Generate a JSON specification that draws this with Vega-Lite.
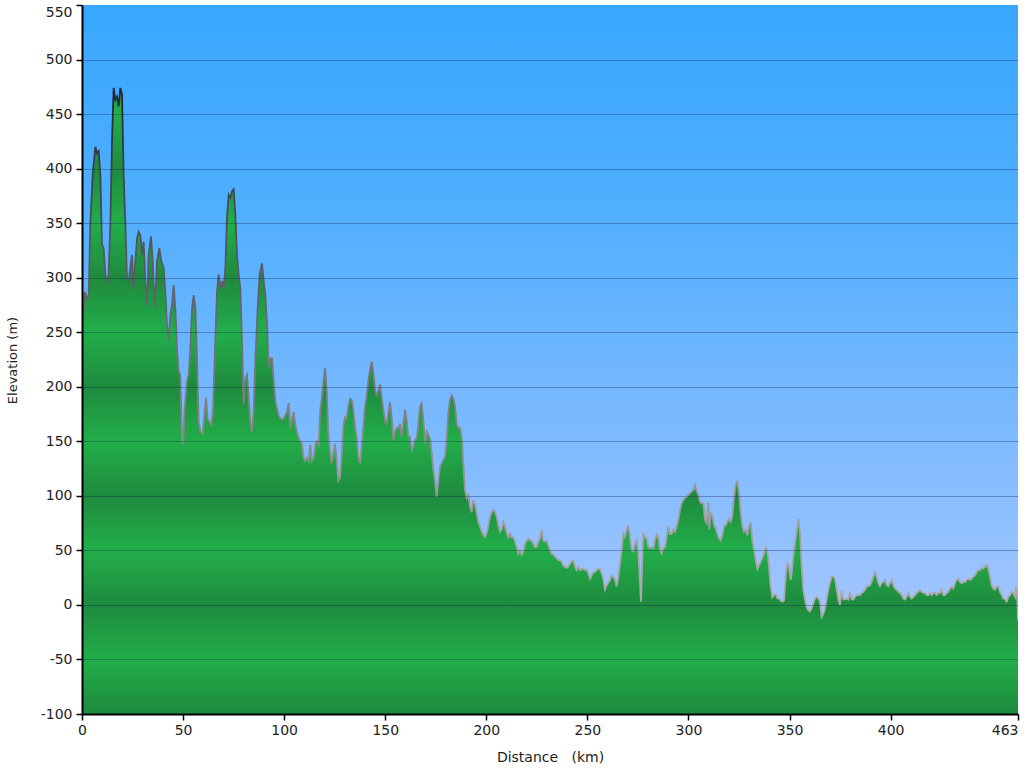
{
  "$schema": "https://vega.github.io/schema/vega-lite/v6.json",
  "width": 936,
  "height": 709,
  "autosize": {"type": "none"},
  "padding": {"left": 82, "top": 5, "right": 6, "bottom": 54},
  "background": "#ffffff",
  "config": {
    "font": "DejaVu Sans",
    "view": {
      "stroke": null,
      "fill": {
        "gradient": "linear", "x1": 0, "y1": 0, "x2": 0, "y2": 1,
        "stops": [
          {"offset": 0, "color": "#22AE4A"},
          {"offset": 0.0769, "color": "#1E8A3D"},
          {"offset": 0.1538, "color": "#22AE4A"},
          {"offset": 0.2308, "color": "#1E8A3D"},
          {"offset": 0.3077, "color": "#22AE4A"},
          {"offset": 0.3846, "color": "#1E8A3D"},
          {"offset": 0.4615, "color": "#22AE4A"},
          {"offset": 0.5385, "color": "#1E8A3D"},
          {"offset": 0.6154, "color": "#22AE4A"},
          {"offset": 0.6923, "color": "#1E8A3D"},
          {"offset": 0.7692, "color": "#22AE4A"},
          {"offset": 0.8462, "color": "#1E8A3D"},
          {"offset": 0.9231, "color": "#22AE4A"},
          {"offset": 1, "color": "#1E8A3D"}
        ]
      }
    }
  },
  "data": {
    "values": [
      {"d":0,"e":240},{"d":0.5,"e":265},{"d":1.32,"e":287},{"d":2.47,"e":281},{"d":3.3,"e":284},{"d":4.12,"e":349},{"d":5.28,"e":394},{"d":6.6,"e":420},{"d":7.42,"e":414},{"d":8.24,"e":416},{"d":9.07,"e":394},{"d":9.89,"e":330},{"d":10.72,"e":327},{"d":11.54,"e":303},{"d":12.37,"e":295},{"d":13.19,"e":304},{"d":14.02,"e":349},{"d":14.84,"e":425},{"d":15.66,"e":474},{"d":16.49,"e":463},{"d":17.31,"e":466},{"d":18.14,"e":457},{"d":18.96,"e":474},{"d":19.79,"e":468},{"d":20.61,"e":394},{"d":21.44,"e":349},{"d":22.26,"e":300},{"d":23.08,"e":297},{"d":23.91,"e":309},{"d":24.73,"e":321},{"d":25.56,"e":290},{"d":26.38,"e":315},{"d":27.21,"e":336},{"d":28.03,"e":342},{"d":28.86,"e":339},{"d":29.68,"e":321},{"d":30.5,"e":333},{"d":31.33,"e":297},{"d":32.15,"e":275},{"d":32.98,"e":321},{"d":34.13,"e":338},{"d":34.96,"e":315},{"d":35.95,"e":272},{"d":37.1,"e":315},{"d":38.25,"e":327},{"d":39.24,"e":315},{"d":40.4,"e":309},{"d":41.22,"e":287},{"d":42.05,"e":257},{"d":42.87,"e":242},{"d":43.7,"e":266},{"d":44.52,"e":275},{"d":45.34,"e":293},{"d":46.17,"e":272},{"d":46.99,"e":235},{"d":47.82,"e":214},{"d":48.64,"e":211},{"d":49.47,"e":150},{"d":49.96,"e":147},{"d":50.79,"e":180},{"d":51.94,"e":205},{"d":52.76,"e":211},{"d":53.59,"e":235},{"d":54.41,"e":272},{"d":55.24,"e":284},{"d":56.06,"e":272},{"d":56.89,"e":226},{"d":57.71,"e":168},{"d":58.54,"e":159},{"d":59.69,"e":157},{"d":60.51,"e":174},{"d":61.34,"e":190},{"d":62.16,"e":171},{"d":62.99,"e":168},{"d":63.98,"e":165},{"d":64.8,"e":180},{"d":65.63,"e":226},{"d":66.78,"e":287},{"d":67.6,"e":303},{"d":68.43,"e":290},{"d":69.25,"e":297},{"d":70.08,"e":290},{"d":70.9,"e":309},{"d":71.73,"e":355},{"d":72.55,"e":376},{"d":73.38,"e":373},{"d":74.2,"e":379},{"d":75.02,"e":381},{"d":75.85,"e":358},{"d":76.67,"e":321},{"d":77.5,"e":303},{"d":78.32,"e":290},{"d":79.15,"e":242},{"d":79.97,"e":184},{"d":80.8,"e":208},{"d":81.62,"e":211},{"d":82.45,"e":190},{"d":83.27,"e":168},{"d":84.09,"e":159},{"d":84.92,"e":180},{"d":85.74,"e":226},{"d":86.9,"e":272},{"d":87.89,"e":303},{"d":89.04,"e":313},{"d":89.87,"e":297},{"d":90.69,"e":284},{"d":91.51,"e":257},{"d":92.34,"e":217},{"d":93.16,"e":226},{"d":93.99,"e":226},{"d":94.81,"e":205},{"d":95.64,"e":187},{"d":96.46,"e":180},{"d":97.29,"e":174},{"d":98.11,"e":171},{"d":98.93,"e":170},{"d":99.76,"e":171},{"d":100.58,"e":174},{"d":101.41,"e":177},{"d":102.23,"e":185},{"d":103.06,"e":162},{"d":103.88,"e":171},{"d":104.71,"e":177},{"d":105.53,"e":165},{"d":106.35,"e":159},{"d":107.18,"e":153},{"d":108.0,"e":150},{"d":108.83,"e":147},{"d":109.65,"e":135},{"d":110.48,"e":132},{"d":111.3,"e":135},{"d":112.13,"e":132},{"d":112.95,"e":147},{"d":113.77,"e":132},{"d":114.6,"e":135},{"d":115.42,"e":147},{"d":116.25,"e":150},{"d":117.07,"e":147},{"d":117.9,"e":180},
      {"d":118.55,"e":188},{"d":119.38,"e":203},{"d":120.2,"e":217},{"d":121.03,"e":197},{"d":121.85,"e":157},{"d":122.68,"e":142},{"d":123.5,"e":130},{"d":124.33,"e":139},{"d":125.15,"e":148},{"d":125.97,"e":133},{"d":126.8,"e":114},{"d":127.62,"e":117},{"d":128.45,"e":136},{"d":129.27,"e":163},{"d":130.1,"e":172},{"d":130.92,"e":171},{"d":131.75,"e":182},{"d":132.57,"e":189},{"d":133.4,"e":188},{"d":134.22,"e":179},{"d":135.04,"e":163},{"d":135.87,"e":154},{"d":136.69,"e":136},{"d":137.52,"e":130},{"d":138.34,"e":145},{"d":139.17,"e":163},{"d":139.99,"e":182},{"d":140.81,"e":191},{"d":141.64,"e":206},{"d":142.46,"e":215},{"d":143.29,"e":223},{"d":144.11,"e":212},{"d":144.94,"e":197},{"d":145.76,"e":191},{"d":146.59,"e":197},{"d":147.41,"e":202},{"d":148.23,"e":191},{"d":149.06,"e":179},{"d":149.88,"e":169},{"d":150.71,"e":165},{"d":151.53,"e":176},{"d":152.36,"e":186},{"d":153.18,"e":172},{"d":154.01,"e":151},{"d":154.83,"e":159},{"d":155.66,"e":162},{"d":156.48,"e":162},{"d":157.3,"e":166},{"d":158.13,"e":154},{"d":158.95,"e":166},{"d":159.78,"e":179},{"d":160.6,"e":169},{"d":161.43,"e":154},{"d":162.25,"e":154},{"d":163.07,"e":142},{"d":163.9,"e":145},{"d":164.72,"e":151},{"d":165.55,"e":153},{"d":166.37,"e":166},{"d":167.2,"e":182},{"d":168.02,"e":185},{"d":168.85,"e":169},{"d":169.67,"e":148},{"d":170.49,"e":159},{"d":171.32,"e":156},{"d":172.14,"e":153},{"d":172.97,"e":139},{"d":173.79,"e":124},{"d":174.62,"e":114},{"d":175.44,"e":99},{"d":176.27,"e":114},{"d":177.09,"e":127},{"d":177.92,"e":130},{"d":178.74,"e":133},{"d":179.56,"e":136},{"d":180.39,"e":151},{"d":181.21,"e":176},{"d":182.04,"e":188},{"d":182.86,"e":192},{"d":183.69,"e":189},{"d":184.51,"e":182},{"d":185.33,"e":166},{"d":186.16,"e":162},{"d":186.98,"e":162},{"d":187.81,"e":154},{"d":188.63,"e":130},{"d":189.46,"e":105},{"d":190.28,"e":98},{"d":191.11,"e":101},{"d":191.93,"e":90},{"d":192.75,"e":85},{"d":193.58,"e":96},{"d":194.4,"e":92},{"d":195.23,"e":84},{"d":196.05,"e":76},{"d":196.88,"e":72},{"d":197.7,"e":67},{"d":198.53,"e":64},{"d":199.35,"e":62},{"d":200.18,"e":66},{"d":201.0,"e":72},{"d":201.82,"e":81},{"d":202.65,"e":85},{"d":203.47,"e":87},{"d":204.3,"e":85},{"d":205.12,"e":81},{"d":205.95,"e":73},{"d":206.77,"e":67},{"d":207.6,"e":69},{"d":208.42,"e":76},{"d":209.24,"e":72},{"d":210.07,"e":66},{"d":210.89,"e":62},{"d":211.72,"e":66},{"d":212.54,"e":62},{"d":213.37,"e":62},{"d":214.19,"e":58},{"d":215.02,"e":53},{"d":215.84,"e":47},{"d":216.66,"e":50},{"d":217.49,"e":46},{"d":218.31,"e":49},{"d":219.14,"e":56},{"d":219.96,"e":59},{"d":220.79,"e":61},{"d":221.61,"e":59},{"d":222.44,"e":59},{"d":223.26,"e":56},{"d":224.08,"e":53},{"d":224.91,"e":53},{"d":225.73,"e":58},{"d":226.56,"e":61},{"d":227.38,"e":69},{"d":228.21,"e":59},{"d":229.03,"e":58},{"d":229.86,"e":59},{"d":230.68,"e":55},{"d":231.51,"e":50},{"d":232.33,"e":47},{"d":233.15,"e":46},{"d":233.98,"e":44},{"d":234.8,"e":43},{"d":235.63,"e":41},
      {"d":236.45,"e":41},{"d":237.27,"e":39.5},{"d":238.1,"e":36},{"d":238.92,"e":35},{"d":239.75,"e":34},{"d":240.57,"e":35},{"d":241.4,"e":38},{"d":242.22,"e":40},{"d":243.05,"e":41},{"d":243.87,"e":35},{"d":244.69,"e":32},{"d":245.52,"e":35},{"d":246.34,"e":32},{"d":247.17,"e":33},{"d":247.99,"e":33},{"d":248.82,"e":32},{"d":249.64,"e":32},{"d":250.47,"e":29},{"d":251.29,"e":24},{"d":252.11,"e":27},{"d":252.94,"e":30},{"d":253.76,"e":30},{"d":254.59,"e":32},{"d":255.41,"e":33},{"d":256.24,"e":33},{"d":257.06,"e":29},{"d":257.89,"e":23},{"d":258.71,"e":14},{"d":259.53,"e":18},{"d":260.36,"e":20},{"d":261.18,"e":23},{"d":262.01,"e":27},{"d":262.83,"e":26},{"d":263.66,"e":23},{"d":264.48,"e":17},{"d":265.31,"e":26},{"d":266.13,"e":38},{"d":266.95,"e":50},{"d":267.78,"e":65},{"d":268.6,"e":62},{"d":269.43,"e":69},{"d":270.25,"e":73},{"d":271.08,"e":62},{"d":271.9,"e":50},{"d":272.73,"e":49},{"d":273.55,"e":56},{"d":274.37,"e":59},{"d":275.2,"e":47},{"d":276.02,"e":20},{"d":276.52,"e":3},{"d":277.01,"e":32},{"d":277.67,"e":65},{"d":278.5,"e":62},{"d":279.32,"e":61},{"d":280.15,"e":53},{"d":280.97,"e":52},{"d":281.79,"e":53},{"d":282.62,"e":52},{"d":283.44,"e":59},{"d":284.27,"e":65},{"d":285.09,"e":62},{"d":285.92,"e":50},{"d":286.74,"e":47},{"d":287.57,"e":52},{"d":288.39,"e":53},{"d":289.21,"e":62},{"d":290.04,"e":72},{"d":290.86,"e":65},{"d":291.69,"e":65},{"d":292.51,"e":69},{"d":293.34,"e":67},{"d":294.16,"e":72},{"d":294.99,"e":78},{"d":295.81,"e":87},{"d":296.63,"e":93},{"d":297.46,"e":96},{"d":298.28,"e":98},{"d":299.11,"e":99},{"d":299.93,"e":101},{"d":300.76,"e":102},{"d":301.58,"e":104},{"d":302.41,"e":105},{"d":303.23,"e":110},{"d":304.05,"e":104},{"d":304.88,"e":101},{"d":305.7,"e":94.5},{"d":306.53,"e":93},{"d":307.35,"e":93},{"d":308.18,"e":78},{"d":309.0,"e":75},{"d":309.83,"e":94.5},{"d":310.32,"e":69},{"d":310.98,"e":84},{"d":311.81,"e":82},{"d":312.63,"e":73},{"d":313.45,"e":70},{"d":314.28,"e":65},{"d":315.1,"e":61},{"d":315.93,"e":59},{"d":316.75,"e":64},{"d":317.58,"e":72},{"d":318.4,"e":73},{"d":319.23,"e":76},{"d":320.05,"e":79},{"d":320.87,"e":76},{"d":321.7,"e":81},{"d":322.52,"e":97.5},{"d":323.35,"e":110},{"d":324.17,"e":113},{"d":325.0,"e":102},{"d":325.82,"e":84},{"d":326.65,"e":72},{"d":327.47,"e":67},{"d":328.29,"e":69},{"d":329.12,"e":64},{"d":329.94,"e":72},{"d":330.77,"e":76},{"d":331.59,"e":59},{"d":332.42,"e":50},{"d":333.24,"e":41},{"d":334.07,"e":33},{"d":334.89,"e":36},{"d":335.71,"e":39.5},{"d":336.54,"e":43},{"d":337.36,"e":47},{"d":338.19,"e":53},{"d":339.01,"e":50},{"d":339.84,"e":35},{"d":340.66,"e":17},{"d":341.49,"e":7},{"d":342.31,"e":9},{"d":343.13,"e":10},{"d":343.96,"e":6},{"d":344.78,"e":6},{"d":345.61,"e":4},{"d":346.43,"e":3},{"d":347.26,"e":4},{"d":348.08,"e":26},{"d":348.91,"e":38},{"d":349.73,"e":35},{"d":350.56,"e":23},
      {"d":351.04,"e":29},{"d":351.87,"e":44},{"d":352.69,"e":56},{"d":353.52,"e":66},{"d":354.34,"e":79},{"d":355.17,"e":66},{"d":355.99,"e":35},{"d":356.82,"e":14},{"d":357.64,"e":5},{"d":358.47,"e":-2},{"d":359.29,"e":-5},{"d":360.11,"e":-6},{"d":360.94,"e":-3},{"d":361.76,"e":1.5},{"d":362.59,"e":6},{"d":363.41,"e":7.5},{"d":364.24,"e":6},{"d":365.06,"e":3},{"d":365.89,"e":-11},{"d":366.71,"e":-8},{"d":367.53,"e":-3},{"d":368.36,"e":5},{"d":369.18,"e":14},{"d":370.01,"e":20},{"d":370.83,"e":26},{"d":371.66,"e":26},{"d":372.48,"e":24},{"d":373.31,"e":14},{"d":374.13,"e":5},{"d":374.95,"e":0},{"d":375.78,"e":14},{"d":376.6,"e":5},{"d":377.43,"e":5},{"d":378.25,"e":6},{"d":379.08,"e":5},{"d":379.9,"e":12},{"d":380.72,"e":5},{"d":381.55,"e":5},{"d":382.37,"e":7.5},{"d":383.2,"e":9},{"d":384.02,"e":9},{"d":384.85,"e":9},{"d":385.67,"e":11},{"d":386.5,"e":12},{"d":387.32,"e":14},{"d":388.14,"e":17},{"d":388.97,"e":17},{"d":389.79,"e":18},{"d":390.62,"e":21},{"d":391.44,"e":26},{"d":392.27,"e":30},{"d":393.09,"e":26},{"d":393.92,"e":20},{"d":394.74,"e":17},{"d":395.56,"e":20},{"d":396.39,"e":21},{"d":397.21,"e":23},{"d":398.04,"e":18},{"d":398.86,"e":17},{"d":399.69,"e":20},{"d":400.51,"e":23},{"d":401.34,"e":18},{"d":402.16,"e":15},{"d":402.98,"e":14},{"d":403.81,"e":12},{"d":404.63,"e":11},{"d":405.46,"e":9},{"d":406.28,"e":6},{"d":407.11,"e":5},{"d":407.93,"e":7.5},{"d":408.76,"e":11},{"d":409.58,"e":7.5},{"d":410.4,"e":6},{"d":411.23,"e":7.5},{"d":412.05,"e":9},{"d":412.88,"e":11},{"d":413.7,"e":12},{"d":414.53,"e":14},{"d":415.35,"e":12},{"d":416.18,"e":11},{"d":417.0,"e":11},{"d":417.82,"e":9},{"d":418.65,"e":9},{"d":419.47,"e":11},{"d":420.3,"e":9},{"d":421.12,"e":11},{"d":421.95,"e":11},{"d":422.77,"e":9},{"d":423.6,"e":11},{"d":424.42,"e":11},{"d":425.24,"e":14},{"d":426.07,"e":9},{"d":426.89,"e":9},{"d":427.72,"e":11},{"d":428.54,"e":12},{"d":429.37,"e":15},{"d":430.19,"e":17},{"d":431.02,"e":15},{"d":431.84,"e":20},{"d":432.67,"e":23},{"d":433.49,"e":24},{"d":434.31,"e":21},{"d":435.14,"e":20},{"d":435.96,"e":21},{"d":436.79,"e":21},{"d":437.61,"e":23},{"d":438.44,"e":24},{"d":439.26,"e":23},{"d":440.09,"e":24},{"d":440.91,"e":26},{"d":441.73,"e":27},{"d":442.56,"e":30},{"d":443.38,"e":32},{"d":444.21,"e":32},{"d":445.03,"e":33.5},{"d":445.86,"e":33.5},{"d":446.68,"e":35},{"d":447.51,"e":36.5},{"d":448.33,"e":33.5},{"d":449.15,"e":26},{"d":449.98,"e":18},{"d":450.8,"e":15},{"d":451.63,"e":14},{"d":452.45,"e":17},{"d":453.28,"e":17},{"d":454.1,"e":12},{"d":454.93,"e":9},{"d":455.75,"e":6},{"d":456.57,"e":5},{"d":457.4,"e":3},{"d":458.22,"e":7.5},{"d":459.05,"e":9},{"d":459.87,"e":12},{"d":460.7,"e":11},{"d":461.52,"e":7.5},{"d":462.02,"e":17},{"d":462.68,"e":5},{"d":463,"e":-14}
    ]
  },
  "encoding": {
    "x": {
      "field": "d", "type": "quantitative",
      "scale": {"domain": [0, 463], "nice": false, "zero": false},
      "axis": {
        "values": [0, 50, 100, 150, 200, 250, 300, 350, 400, 463],
        "title": "Distance\u00a0\u00a0\u00a0(km)",
        "grid": false,
        "domainColor": "#000000", "domainWidth": 2,
        "tickColor": "#000000", "tickSize": 6, "tickWidth": 1.5,
        "labelFont": "DejaVu Sans", "labelFontSize": 14, "labelColor": "#222222",
        "labelPadding": 3, "labelFlush": false, "labelOverlap": false,
        "labelAlign": {"condition": {"test": "datum.value == 463", "value": "right"}, "value": "center"},
        "titleFont": "DejaVu Sans", "titleFontSize": 14, "titleFontWeight": "normal", "titleColor": "#222222",
        "titleY": 47, "titleBaseline": "alphabetic",
        "zindex": 1
      }
    },
    "y": {
      "field": "e", "type": "quantitative",
      "scale": {"domain": [-100, 550], "nice": false, "zero": false},
      "axis": {
        "values": [-100, -50, 0, 50, 100, 150, 200, 250, 300, 350, 400, 450, 500, 550],
        "title": "Elevation (m)",
        "grid": true, "gridColor": "#0b2550", "gridWidth": 1,
        "gridOpacity": {"condition": {"test": "datum.value == 550 || datum.value == -100", "value": 0}, "value": 0.35},
        "domainColor": "#000000", "domainWidth": 2,
        "tickColor": "#000000", "tickSize": 6, "tickWidth": 1.5,
        "labelFont": "DejaVu Sans", "labelFontSize": 14, "labelColor": "#222222",
        "labelPadding": 4, "labelOverlap": false, "labelFlush": false,
        "labelExpr": "'' + datum.value",
        "labelBaseline": {"condition": {"test": "datum.value == 550", "value": "top"}, "value": "middle"},
        "titleFont": "DejaVu Sans", "titleFontSize": 13, "titleFontWeight": "normal", "titleColor": "#222222",
        "titleX": -66, "titleY": 355, "titleAngle": -90, "titleAlign": "center", "titleBaseline": "alphabetic",
        "zindex": 1
      }
    }
  },
  "layer": [
    {
      "mark": {
        "type": "area", "interpolate": "linear", "clip": true,
        "fill": {
          "gradient": "linear", "x1": 0, "y1": 0, "x2": 0, "y2": 1,
          "stops": [
            {"offset": 0, "color": "#38A7FF"},
            {"offset": 0.3, "color": "#4DAEFF"},
            {"offset": 0.55, "color": "#6BB5FF"},
            {"offset": 0.8, "color": "#8ABEFF"},
            {"offset": 1, "color": "#A3C6FF"}
          ]
        }
      },
      "encoding": {"y2": {"datum": 550}}
    },
    {
      "mark": {
        "type": "line", "interpolate": "linear", "clip": true, "strokeWidth": 1.8,
        "stroke": {
          "gradient": "linear", "x1": 0, "y1": 0, "x2": 0, "y2": 1,
          "stops": [
            {"offset": 0, "color": "#1F2535"},
            {"offset": 0.152, "color": "#3A4050"},
            {"offset": 0.357, "color": "#5A5E66"},
            {"offset": 0.561, "color": "#7A7C80"},
            {"offset": 0.766, "color": "#9A9A9C"},
            {"offset": 0.971, "color": "#ABABAB"},
            {"offset": 1, "color": "#B0B0B0"}
          ]
        }
      }
    }
  ]
}
